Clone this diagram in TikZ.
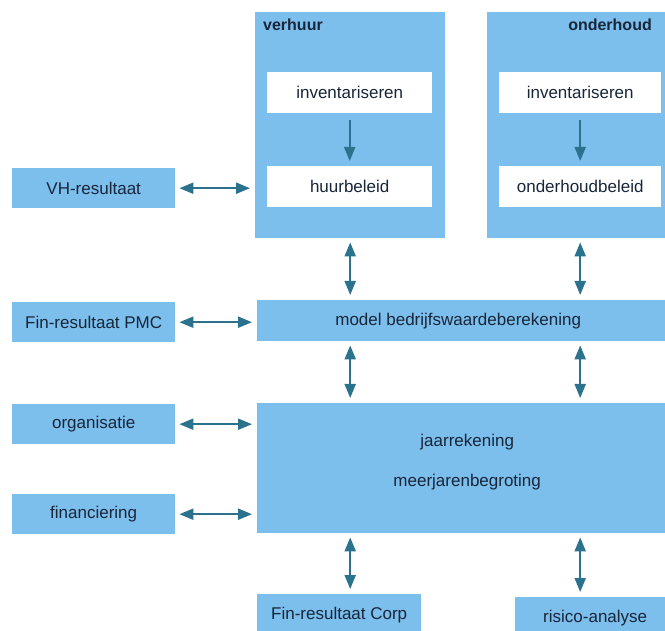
\documentclass[tikz,border=0pt]{standalone}
\usepackage{fontspec}
\setmainfont{Liberation Sans}
\usepackage{tikz}
\usetikzlibrary{arrows.meta,positioning}
\definecolor{boxblue}{RGB}{124,190,236}
\definecolor{arrowteal}{RGB}{42,114,142}
\definecolor{inkblue}{RGB}{24,38,58}
\tikzset{>={Triangle[width=11pt,length=14pt]}}
\tikzset{
  bluebox/.style={
    fill=boxblue, draw=none, text=inkblue, inner sep=0pt, anchor=north west,
    font=\fontsize{17}{20}\selectfont},
  whitebox/.style={
    bluebox, fill=white, minimum width=165pt, minimum height=41pt},
  header/.style={
    text=inkblue, inner sep=0pt, font=\fontsize{16}{18}\selectfont\bfseries},
  boxtext/.style={
    text=inkblue, inner sep=0pt, align=center, font=\fontsize{17}{20}\selectfont},
  link/.style={
    <->, line width=2pt, draw=arrowteal, shorten >=5pt, shorten <=4pt},
  flow/.style={
    ->, line width=2pt, draw=arrowteal, shorten >=5pt, shorten <=7pt}
}

\begin{document}
\begin{tikzpicture}[x=1pt,y=-1pt]
	\clip (0,0) rectangle (665,631);
	\fill[white] (0,0) rectangle (665,631);
	% top columns
	\node[bluebox, minimum width=190pt, minimum height=226pt] (verhuur) at (255,12) {};
	\node[bluebox, minimum width=186pt, minimum height=226pt] (onderhoud) at (487,12) {};
	\node[header, anchor=north west] (verhuurtitle) at (263,19) {verhuur};
	\node[header, anchor=north east] (onderhoudtitle) at (652,19) {onderhoud};
	\node[whitebox] (invA) at (267,72) {inventariseren};
	\node[whitebox] (huur) at (267,166) {huurbeleid};
	\node[whitebox, minimum width=162pt] (invB) at (499,72) {inventariseren};
	\node[whitebox, minimum width=162pt] (ondbeleid) at (499,166) {onderhoudbeleid};
	\draw[flow] (invA) -- (huur);
	\draw[flow] (invB) -- (ondbeleid);
	% middle and lower blocks
	\node[bluebox, minimum width=420pt, minimum height=41pt] (model) at (257,300) {};
	\node[boxtext] (modeltext) at ([xshift=-9pt]model.center) {model bedrijfswaardeberekening};
	\node[bluebox, minimum width=420pt, minimum height=130pt] (jaar) at (257,403) {};
	\node[boxtext] (jaartext) at ([yshift=6pt]jaar.center) {jaarrekening\\[20pt]meerjarenbegroting};
	\node[bluebox, minimum width=164pt, minimum height=41pt] (corp) at (257,594) {Fin-resultaat Corp};
	\node[bluebox, minimum width=160pt, minimum height=41pt] (risico) at (515,597) {risico-analyse};
	% left column
	\node[bluebox, minimum width=163pt, minimum height=40pt] (vh) at (12,168) {VH-resultaat};
	\node[bluebox, minimum width=163pt, minimum height=40pt] (pmc) at (12,302) {Fin-resultaat PMC};
	\node[bluebox, minimum width=163pt, minimum height=40pt] (org) at (12,404) {organisatie};
	\node[bluebox, minimum width=163pt, minimum height=40pt] (fin) at (12,494) {financiering};
	% connections
	\draw[link] (vh.east) -- (vh.east -| verhuur.west);
	\draw[link] (pmc.east) -- (pmc.east -| model.west);
	\draw[link] (org.east) -- (org.east -| jaar.west);
	\draw[link] (fin.east) -- (fin.east -| jaar.west);
	\draw[link] (verhuur.south) -- (verhuur.south |- model.north);
	\draw[link] (onderhoud.south) -- (onderhoud.south |- model.north);
	\draw[link] (verhuur.south |- model.south) -- (verhuur.south |- jaar.north);
	\draw[link] (onderhoud.south |- model.south) -- (onderhoud.south |- jaar.north);
	\draw[link] (verhuur.south |- jaar.south) -- (verhuur.south |- corp.north);
	\draw[link] (onderhoud.south |- jaar.south) -- (onderhoud.south |- risico.north);
\end{tikzpicture}
\end{document}
